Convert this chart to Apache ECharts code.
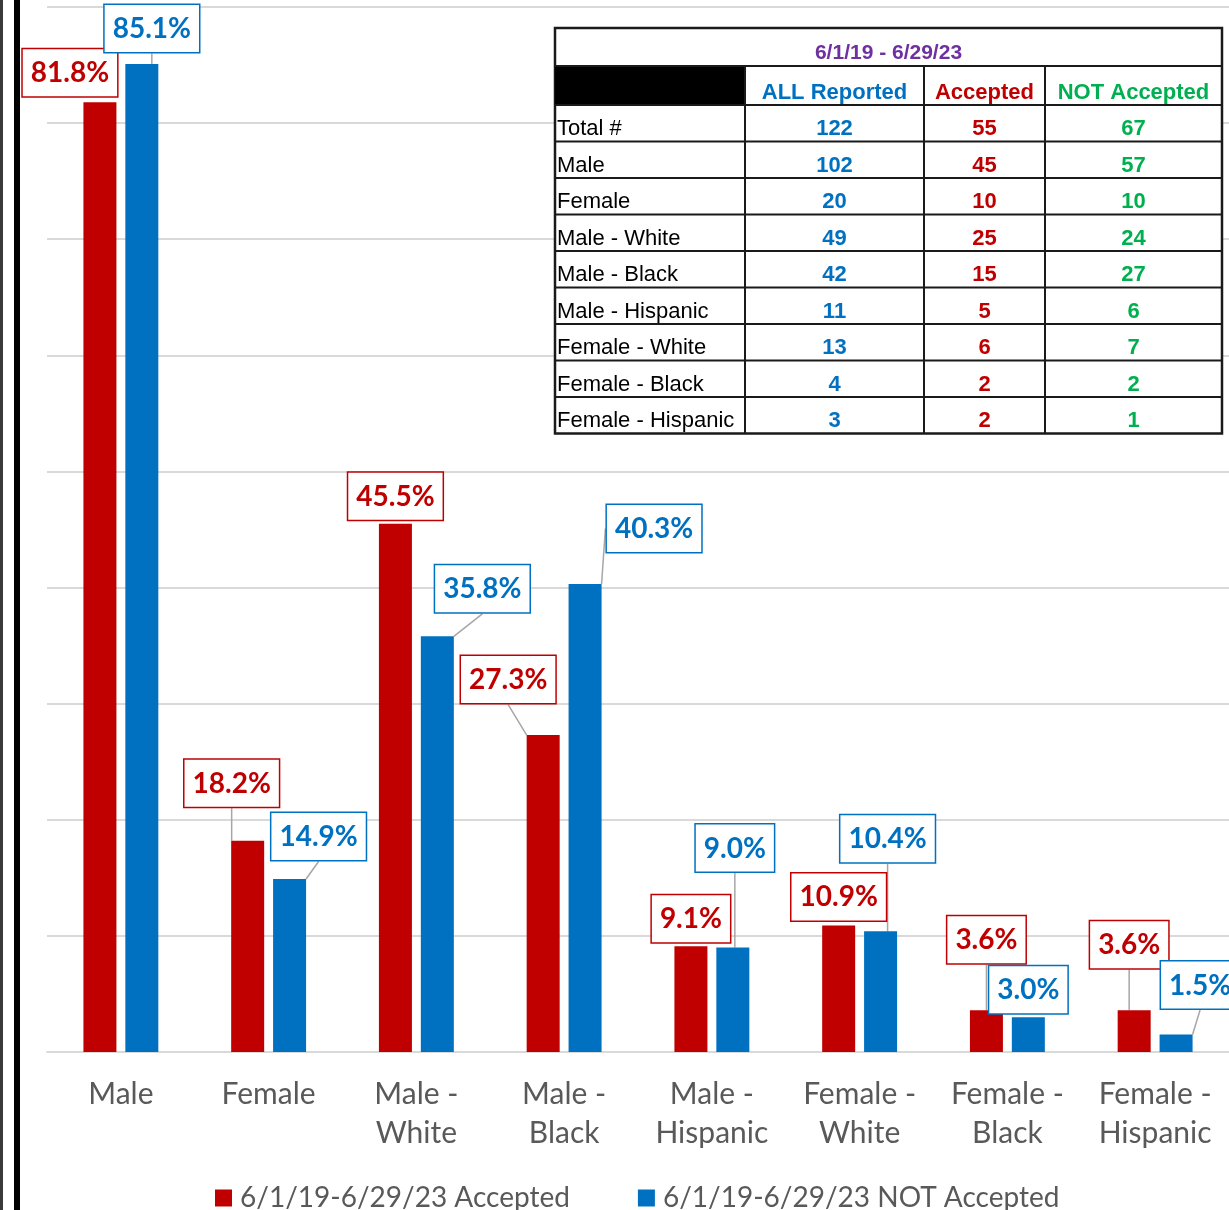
<!DOCTYPE html>
<html>
<head>
<meta charset="utf-8">
<script src="https://cdn.jsdelivr.net/npm/echarts@6/dist/echarts.min.js"></script>
<style>
html,body{margin:0;padding:0;background:#fff}
#chart{width:1229px;height:1210px}
</style>
</head>
<body>
<div id="chart"></div>
<script>
// chart data
var categories = ['Male', 'Female', 'Male - White', 'Male - Black', 'Male - Hispanic', 'Female - White', 'Female - Black', 'Female - Hispanic'];
var acceptedPct = [81.8, 18.2, 45.5, 27.3, 9.1, 10.9, 3.6, 3.6];
var notAcceptedPct = [85.1, 14.9, 35.8, 40.3, 9.0, 10.4, 3.0, 1.5];
var seriesNames = ['6/1/19-6/29/23 Accepted', '6/1/19-6/29/23 NOT Accepted'];

// table data
var tableTitle = '6/1/19 - 6/29/23';
var tableHeaders = ['ALL Reported', 'Accepted', 'NOT Accepted'];
var tableRows = ['Total #', 'Male', 'Female', 'Male - White', 'Male - Black', 'Male - Hispanic', 'Female - White', 'Female - Black', 'Female - Hispanic'];
var tableAll = [122, 102, 20, 49, 42, 11, 13, 4, 3];
var tableAccepted = [55, 45, 10, 25, 15, 5, 6, 2, 2];
var tableNotAccepted = [67, 57, 10, 24, 27, 6, 7, 2, 1];

var RED = '#C00000', BLUE = '#0070C0', GREEN = '#00B050', PURPLE = '#7030A0';

// labels were dragged around by hand in the original
var redShift = [[-30, -6], [-16, -34], [0, -4], [-35, -32], [0, -4], [0, -5], [0, -47], [-5, -42]];
var blueShift = [[10, -12], [29, -19], [45, -24], [69, -32], [2, -76], [7, -69], [0, -4], [24, -26]];
// labels sitting right on their bar have no leader line
var redNoLine = [0, 2, 4, 5];
var blueNoLine = [6];

function boxLabel(color) {
  return {
    show: true,
    position: 'top',
    distance: 0,
    formatter: function (p) { return p.value.toFixed(1) + '%'; },
    color: color,
    fontFamily: 'Lato',
    fontWeight: 'bold',
    fontSize: 28,
    lineHeight: 36,
    backgroundColor: '#fff',
    borderColor: color,
    borderWidth: 1.5,
    padding: [6, 8, 5, 8]
  };
}

function withLines(values, noLine) {
  return values.map(function (v, i) {
    return noLine.indexOf(i) >= 0 ? { value: v, labelLine: { show: false } } : v;
  });
}

// table as graphic
var g = [];
var colX = [555, 745, 924, 1045, 1222];
var tTop = 28, titleH = 38, headH = 39, rowH = 36.5;
var bodyTop = tTop + titleH + headH;
var tBottom = bodyTop + rowH * tableRows.length;
var lineCol = '#1a1a1a';
g.push({ type: 'rect', z: 100, shape: { x: colX[0], y: tTop, width: colX[4] - colX[0], height: tBottom - tTop }, style: { fill: '#fff', stroke: lineCol, lineWidth: 2.5 } });
g.push({ type: 'rect', z: 101, shape: { x: colX[0], y: tTop + titleH, width: colX[1] - colX[0], height: headH }, style: { fill: '#000' } });
g.push({ type: 'line', z: 102, shape: { x1: colX[0], y1: tTop + titleH, x2: colX[4], y2: tTop + titleH }, style: { stroke: lineCol, lineWidth: 2 } });
for (var r = 0; r < tableRows.length; r++) {
  var yy = bodyTop + r * rowH;
  g.push({ type: 'line', z: 102, shape: { x1: colX[0], y1: yy, x2: colX[4], y2: yy }, style: { stroke: lineCol, lineWidth: 2 } });
}
for (var c = 1; c < 4; c++) {
  g.push({ type: 'line', z: 102, shape: { x1: colX[c], y1: tTop + titleH, x2: colX[c], y2: tBottom }, style: { stroke: lineCol, lineWidth: 2 } });
}
g.push({ type: 'text', z: 103, x: (colX[0] + colX[4]) / 2, y: tTop + titleH / 2 + 6, style: { text: tableTitle, fill: PURPLE, font: 'bold 21px "Liberation Sans"', textAlign: 'center', textVerticalAlign: 'middle' } });
var headColors = [BLUE, RED, GREEN];
for (var h = 0; h < 3; h++) {
  g.push({ type: 'text', z: 103, x: (colX[h + 1] + colX[h + 2]) / 2, y: tTop + titleH + 27, style: { text: tableHeaders[h], fill: headColors[h], font: 'bold 22px "Liberation Sans"', textAlign: 'center', textVerticalAlign: 'middle' } });
}
var cols = [tableAll, tableAccepted, tableNotAccepted];
for (var i = 0; i < tableRows.length; i++) {
  var cy = bodyTop + i * rowH + 24;
  g.push({ type: 'text', z: 103, x: colX[0] + 2, y: cy, style: { text: tableRows[i], fill: '#000', font: '22px "Liberation Sans"', textAlign: 'left', textVerticalAlign: 'middle' } });
  for (var k = 0; k < 3; k++) {
    g.push({ type: 'text', z: 103, x: (colX[k + 1] + colX[k + 2]) / 2, y: cy, style: { text: String(cols[k][i]), fill: headColors[k], font: 'bold 22px "Liberation Sans"', textAlign: 'center', textVerticalAlign: 'middle' } });
  }
}
// left border lines
g.push({ type: 'rect', shape: { x: 0, y: 0, width: 3, height: 1210 }, style: { fill: '#3a3a3a' } });
g.push({ type: 'rect', shape: { x: 14, y: 0, width: 6, height: 1210 }, style: { fill: '#000' } });

var myChart = echarts.init(document.getElementById('chart'));
var option = {
  animation: false,
  grid: { left: 47, top: 7, width: 1182, height: 1045, containLabel: false },
  legend: {
    data: seriesNames,
    left: 210,
    top: 1179,
    icon: 'rect',
    itemWidth: 17,
    itemHeight: 17,
    itemGap: 68,
    textStyle: { fontFamily: 'Lato', fontSize: 28, color: '#595959', padding: [0, 0, 0, 3] }
  },
  xAxis: {
    type: 'category',
    data: categories,
    axisTick: { show: false },
    axisLine: { lineStyle: { color: '#d9d9d9', width: 2 } },
    axisLabel: {
      interval: 0,
      margin: 23,
      color: '#595959',
      fontFamily: 'Lato',
      fontSize: 30,
      lineHeight: 39,
      formatter: function (v) { return v.replace(' - ', ' -\n'); }
    }
  },
  yAxis: {
    type: 'value',
    min: 0,
    max: 90,
    interval: 10,
    axisLabel: { show: false },
    axisLine: { show: false },
    axisTick: { show: false },
    splitLine: { lineStyle: { color: '#d9d9d9', width: 2 } }
  },
  series: [{
    name: seriesNames[0],
    type: 'bar',
    data: withLines(acceptedPct, redNoLine),
    barWidth: 33,
    barGap: '27%',
    itemStyle: { color: RED },
    label: boxLabel(RED),
    labelLine: { show: true, lineStyle: { color: '#a6a6a6', width: 1.5 } },
    labelLayout: function (p) { return { dx: redShift[p.dataIndex][0], dy: redShift[p.dataIndex][1] }; }
  }, {
    name: seriesNames[1],
    type: 'bar',
    data: withLines(notAcceptedPct, blueNoLine),
    barWidth: 33,
    barGap: '27%',
    itemStyle: { color: BLUE },
    label: boxLabel(BLUE),
    labelLine: { show: true, lineStyle: { color: '#a6a6a6', width: 1.5 } },
    labelLayout: function (p) { return { dx: blueShift[p.dataIndex][0], dy: blueShift[p.dataIndex][1] }; }
  }],
  graphic: g
};
myChart.setOption(option);
window.addEventListener('resize', () => {
  myChart.resize();
});
</script>
</body>
</html>
